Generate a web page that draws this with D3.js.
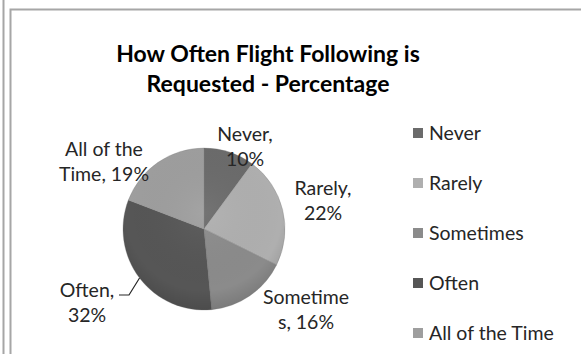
<!DOCTYPE html>
<html>
<head>
<meta charset="utf-8">
<script src="https://cdn.jsdelivr.net/npm/d3@7"></script>
<style>
  html, body { margin: 0; padding: 0; background: #fff; }
  svg { display: block; }
  text { font-family: Lato, "Open Sans", sans-serif; }
</style>
</head>
<body>
<svg id="chart" width="581" height="354"></svg>
<script>
// Survey answers: how often flight following is requested
const categories = ["Never", "Rarely", "Sometimes", "Often", "All of the Time"];
const percentages = [10, 22, 16, 32, 19];
const sliceColors = ["#6b6b6b", "#afafaf", "#8b8b8b", "#565656", "#9e9e9e"];
const titleLines = ["How Often Flight Following is", "Requested - Percentage"];
// data label lines per slice
const labelLines = [
  ["Never,", "10%"],
  ["Rarely,", "22%"],
  ["Sometime", "s, 16%"],
  ["Often,", "32%"],
  ["All of the", "Time, 19%"]
];

const W = 581, H = 354;
const svg = d3.select("#chart");

// outer frame lines
svg.append("line").attr("x1", 3.5).attr("x2", 3.5).attr("y1", 0).attr("y2", H)
  .attr("stroke", "#a6a6a6").attr("stroke-width", 2);
svg.append("path").attr("d", `M10.5,${H} V9.5 H${W}`)
  .attr("fill", "none").attr("stroke", "#a6a6a6").attr("stroke-width", 2);

// title
const title = svg.append("g");
titleLines.forEach((t, i) => {
  title.append("text")
    .attr("x", 268).attr("y", 62 + i * 30)
    .attr("text-anchor", "middle")
    .attr("font-size", 23).attr("font-weight", "bold").attr("fill", "#000")
    .text(t);
});

// pie
const cx = 204, cy = 229, r = 81;
const pie = d3.pie().sort(null).value(d => d);
const arc = d3.arc().innerRadius(0).outerRadius(r);
const arcs = pie(percentages);

const defs = svg.append("defs");
const shade = defs.append("radialGradient").attr("id", "shade")
  .attr("cx", "50%").attr("cy", "40%").attr("r", "60%");
shade.append("stop").attr("offset", "0%").attr("stop-color", "#fff").attr("stop-opacity", 0.06);
shade.append("stop").attr("offset", "80%").attr("stop-color", "#000").attr("stop-opacity", 0.0);
shade.append("stop").attr("offset", "100%").attr("stop-color", "#000").attr("stop-opacity", 0.12);

const pg = svg.append("g").attr("transform", `translate(${cx},${cy})`);
pg.selectAll("path.slice").data(arcs).join("path")
  .attr("class", "slice")
  .attr("d", arc)
  .attr("fill", (d, i) => sliceColors[i])
  .attr("stroke", "#7a7a7a").attr("stroke-width", 0.3);
pg.append("circle").attr("r", r).attr("fill", "url(#shade)");

// data label anchor points
const labelPos = [
  [245, 141], [323, 195], [306, 304], [87, 297], [104, 156]
];
const lg = svg.append("g");
arcs.forEach((a, i) => {
  const [x, y] = labelPos[i];
  labelLines[i].forEach((t, j) => {
    lg.append("text")
      .attr("x", x).attr("y", y + j * 25)
      .attr("text-anchor", "middle")
      .attr("font-size", 19.5).attr("fill", "#262626")
      .text(t);
  });
});

// leader line for "Often" to the middle of its slice's edge
const oftenArc = arcs[3];
const mid = (oftenArc.startAngle + oftenArc.endAngle) / 2;
const ex = cx + r * Math.sin(mid), ey = cy - r * Math.cos(mid);
svg.append("path")
  .attr("d", `M119,295 H129 L${ex},${ey}`)
  .attr("fill", "none").attr("stroke", "#262626").attr("stroke-width", 1.2);

// legend
const leg = svg.append("g");
categories.forEach((c, i) => {
  const y = 133 + i * 50;
  leg.append("rect").attr("x", 413).attr("y", y - 5).attr("width", 10).attr("height", 10)
    .attr("fill", sliceColors[i]);
  leg.append("text").attr("x", 429).attr("y", y + 7)
    .attr("font-size", 19.5).attr("fill", "#262626").text(c);
});
</script>
</body>
</html>
